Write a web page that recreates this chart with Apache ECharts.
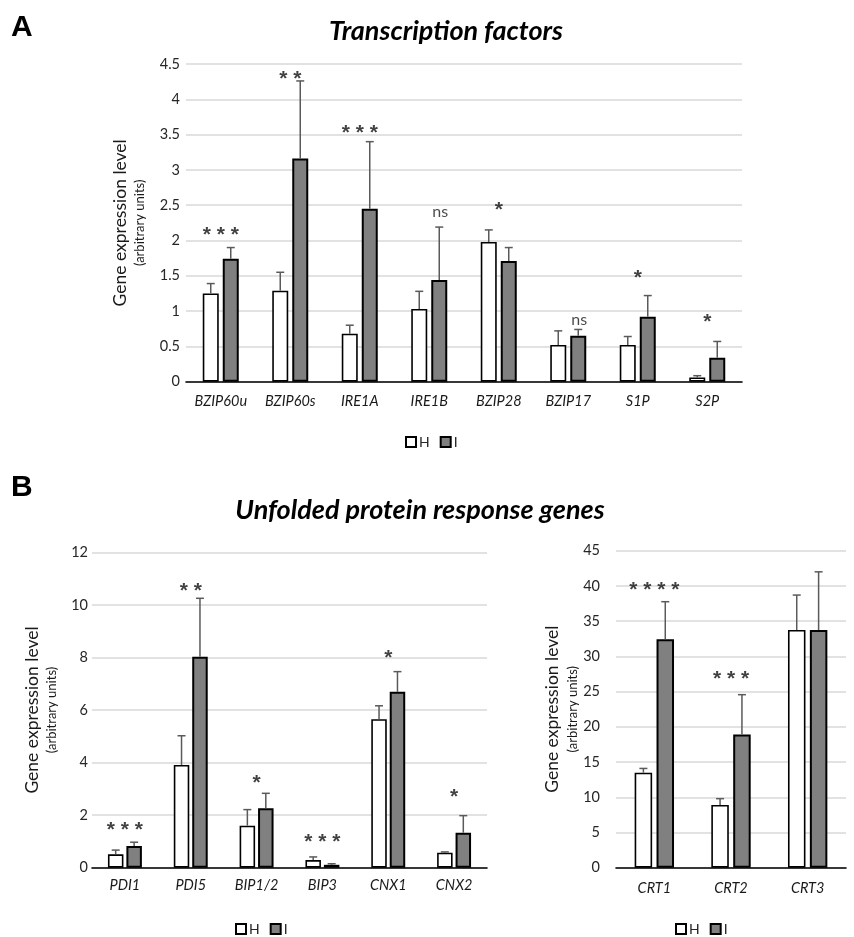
<!DOCTYPE html>
<html>
<head>
<meta charset="utf-8">
<script src="https://cdn.jsdelivr.net/npm/echarts@6/dist/echarts.min.js"></script>
<style>html,body{margin:0;padding:0;background:#fff;}#c{width:854px;height:937px;}</style>
</head>
<body>
<div id="c"></div>
<script>
// ---- Panel A: Transcription factors ----
var catA = ['BZIP60u','BZIP60s','IRE1A','IRE1B','BZIP28','BZIP17','S1P','S2P'];
var hA = [1.25,1.29,0.68,1.03,1.98,0.52,0.52,0.06];
var hAerr = [0.14,0.26,0.12,0.25,0.17,0.20,0.12,0.025];
var iA = [1.74,3.16,2.45,1.44,1.71,0.65,0.92,0.34];
var iAerr = [0.16,1.10,0.95,0.75,0.19,0.09,0.30,0.23];
var sigA = ['* * *','* *','* * *','ns','*','ns','*','*'];
var sigAy = [2.15,4.35,3.59,2.41,2.50,0.88,1.54,0.91];
var ticksA = {min:0, max:4.5, interval:0.5};

// ---- Panel B left: Unfolded protein response genes ----
var catB = ['PDI1','PDI5','BIP1/2','BIP3','CNX1','CNX2'];
var hB = [0.51,3.91,1.60,0.29,5.65,0.57];
var hBerr = [0.16,1.11,0.61,0.12,0.51,0.03];
var iB = [0.83,8.03,2.26,0.11,6.69,1.33];
var iBerr = [0.14,2.22,0.57,0.04,0.77,0.65];
var sigB = ['* * *','* *','*','* * *','*','*'];
var sigBy = [1.62,10.72,3.41,1.17,8.17,2.89];
var ticksB = {min:0, max:12, interval:2};

// ---- Panel B right ----
var catC = ['CRT1','CRT2','CRT3'];
var hC = [13.49,8.9,33.74];
var hCerr = [0.6,0.9,4.96];
var iC = [32.42,18.9,33.74];
var iCerr = [5.34,5.66,8.26];
var sigC = ['* * * *','* * *',''];
var sigCy = [40.1,27.4,0];
var ticksC = {min:0, max:45, interval:5};

var FONT = 'Lato, "Open Sans", sans-serif';
var TXT = '#262626';

function errRender(dx){
  return function(params, api){
    var x = api.value(0), m = api.value(1), e = api.value(2);
    var p0 = api.coord([x, m]);
    var p1 = api.coord([x, m + e]);
    var cx = p0[0] + dx;
    var st = {stroke:'#5a5a5a', lineWidth:1.5};
    return {type:'group', children:[
      {type:'line', shape:{x1:cx, y1:p0[1], x2:cx, y2:p1[1]}, style:st},
      {type:'line', shape:{x1:cx-4, y1:p1[1], x2:cx+4, y2:p1[1]}, style:st}
    ]};
  };
}
function errData(vals, errs){
  return vals.map(function(v, i){ return [i, v, errs[i]]; });
}
function sigData(txt, ys){
  var out = [];
  txt.forEach(function(t, i){ if(t) out.push({name:t, value:[i, ys[i]]}); });
  return out;
}

var grids = [
  {left:186, right:112, top:64, bottom:555.3},
  {left:92, right:367, top:552.3, bottom:69.3},
  {left:616, right:8, top:550.7, bottom:69.3}
];
var cats = [catA, catB, catC];
var ticks = [ticksA, ticksB, ticksC];
var labelMargins = [12, 10, 13];
var yMargins = [6, 4, 16];
var nameGaps = [36, 30, 32];
var barW = [16, 15.5, 17.5];
var barGap = ['25%', '19%', '25%'];
var H = [hA, hB, hC], Herr = [hAerr, hBerr, hCerr];
var I = [iA, iB, iC], Ierr = [iAerr, iBerr, iCerr];
var SIG = [sigA, sigB, sigC], SIGY = [sigAy, sigBy, sigCy];

var xAxes = [], yAxes = [], series = [];
for (var g = 0; g < 3; g++) {
  xAxes.push({
    type:'category', gridIndex:g, data:cats[g],
    axisLine:{lineStyle:{color:'#000', width:1.6}},
    axisTick:{show:false},
    axisLabel:{fontFamily:FONT, fontStyle:'italic', fontSize:14.5, color:'#1a1a1a', margin:labelMargins[g], interval:0}
  });
  yAxes.push({
    type:'value', gridIndex:g, min:ticks[g].min, max:ticks[g].max, interval:ticks[g].interval,
    axisLine:{show:false}, axisTick:{show:false},
    splitLine:{lineStyle:{color:'#d9d9d9', width:1.5}},
    axisLabel:{fontFamily:FONT, fontSize:14.5, color:TXT, margin:yMargins[g]},
    name:'{a|Gene expression level}\n{b|(arbitrary units)}',
    nameLocation:'middle', nameRotate:90, nameGap:nameGaps[g],
    nameTextStyle:{rich:{
      a:{fontFamily:FONT, fontSize:17.5, color:'#1a1a1a', lineHeight:20},
      b:{fontFamily:FONT, fontSize:13, color:'#1a1a1a', lineHeight:20}
    }}
  });
  series.push({
    name:'H', type:'bar', xAxisIndex:g, yAxisIndex:g, data:H[g],
    barWidth:barW[g], barGap:barGap[g],
    itemStyle:{color:'#ffffff', borderColor:'#000', borderWidth:1.6}, z:2
  });
  series.push({
    name:'I', type:'bar', xAxisIndex:g, yAxisIndex:g, data:I[g],
    barWidth:barW[g], barGap:barGap[g],
    itemStyle:{color:'#808080', borderColor:'#000', borderWidth:2}, z:2
  });
  var off = (barW[g] * (1 + parseFloat(barGap[g]) / 100)) / 2;
  series.push({
    type:'custom', xAxisIndex:g, yAxisIndex:g, renderItem:errRender(-off),
    data:errData(H[g], Herr[g]), encode:{x:0, y:1}, z:5, silent:true
  });
  series.push({
    type:'custom', xAxisIndex:g, yAxisIndex:g, renderItem:errRender(off),
    data:errData(I[g], Ierr[g]), encode:{x:0, y:1}, z:5, silent:true
  });
  series.push({
    type:'scatter', xAxisIndex:g, yAxisIndex:g, symbolSize:0, silent:true, z:6,
    data:sigData(SIG[g], SIGY[g]),
    label:{show:true, position:'inside', formatter:function(p){ return p.name; },
      fontFamily:'"Liberation Sans", Arial, sans-serif', color:'#111',
      fontSize:21, fontWeight:'bold', offset:[0, 5]}
  });
}
// 'ns' labels: regular weight, shifted over the I bar
series.forEach(function(s){
  if (s.type === 'scatter') {
    s.data.forEach(function(d){
      if (d.name === 'ns') d.label = {fontFamily:FONT, fontSize:16, fontWeight:'normal', color:'#1a1a1a', offset:[11, 0]};
    });
  }
});

var legendBase = {
  data:['H','I'], orient:'horizontal', itemWidth:10, itemHeight:10, itemGap:10,
  icon:'rect', selectedMode:false,
  textStyle:{fontFamily:FONT, fontSize:14, color:TXT, padding:[0,0,0,-2]}
};
function lg(left, top){ var o = JSON.parse(JSON.stringify(legendBase)); o.left = left; o.top = top; return o; }

var option = {
  animation:false,
  backgroundColor:'#fff',
  grid:grids,
  xAxis:xAxes,
  yAxis:yAxes,
  legend:[lg(400, 430), lg(230, 917), lg(670, 917)],
  series:series,
  graphic:[
    {type:'text', x:11, y:28, style:{text:'A', font:'bold 30px "Liberation Sans", Arial, sans-serif', fill:'#000', textAlign:'left', textVerticalAlign:'middle'}},
    {type:'text', x:11, y:488, style:{text:'B', font:'bold 30px "Liberation Sans", Arial, sans-serif', fill:'#000', textAlign:'left', textVerticalAlign:'middle'}},
    {type:'text', x:446, y:31, style:{text:'Transcription factors', font:'italic bold 27px Lato, sans-serif', fill:'#000', textAlign:'center', textVerticalAlign:'middle'}},
    {type:'text', x:420, y:510, style:{text:'Unfolded protein response genes', font:'italic bold 27px Lato, sans-serif', fill:'#000', textAlign:'center', textVerticalAlign:'middle'}}
  ]
};
var chart = echarts.init(document.getElementById('c'), null, {renderer:'canvas'});
chart.setOption(option);
</script>
</body>
</html>
